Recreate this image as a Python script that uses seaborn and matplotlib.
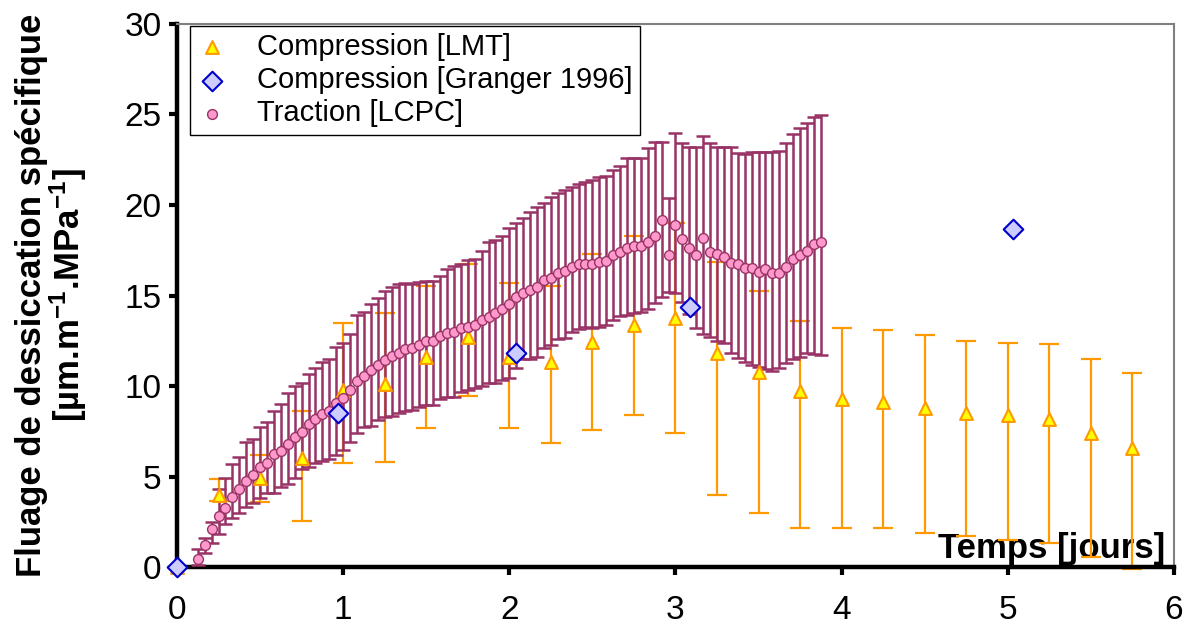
import numpy as np
import matplotlib
matplotlib.use("Agg")
import matplotlib.pyplot as plt
import seaborn as sns

# Compression [LMT] - one point every 6 h
lmt_jours = [0, 0.25, 0.5, 0.75, 1, 1.25, 1.5, 1.75, 2, 2.25, 2.5, 2.75,
             3, 3.25, 3.5, 3.75, 4, 4.25, 4.5, 4.75, 5, 5.25, 5.5, 5.75]
lmt_val = [0, 3.98, 4.9, 6.04, 9.8, 10.1, 11.6, 12.7, 11.6, 11.35, 12.45, 13.37,
           13.74, 11.8, 10.8, 9.74, 9.3, 9.1, 8.8, 8.5, 8.4, 8.2, 7.4, 6.6]
lmt_haut = [0, 4.86, 6.2, 8.62, 13.5, 14.05, 15.5, 16.74, 15.7, 15.5, 17.3, 18.3,
            19.0, 16.87, 15.27, 13.6, 13.2, 13.1, 12.8, 12.5, 12.4, 12.3, 11.5, 10.7]
lmt_bas = [0, 3.66, 3.6, 2.56, 5.76, 5.8, 7.7, 9.45, 7.66, 6.85, 7.57, 8.4,
           7.39, 4.0, 3.0, 2.15, 2.15, 2.15, 1.9, 1.7, 1.5, 1.3, 0.55, -0.1]

# Compression [Granger 1996]
granger_jours = [0, 0.97, 2.04, 3.09, 5.03]
granger_val = [0, 8.5, 11.8, 14.35, 18.7]

# Traction [LCPC] - hourly points
lcpc_heures = [3, 4, 5, 6, 7, 8, 9, 10, 11, 12, 13, 14, 15, 16, 17, 18, 19, 20, 21, 22, 23, 24,
               25, 26, 27, 28, 29, 30, 31, 32, 33, 34, 35, 36, 37, 38, 39, 40, 41, 42, 43, 44, 45, 46, 47, 48,
               49, 50, 51, 52, 53, 54, 55, 56, 57, 58, 59, 60, 61, 62, 63, 64, 65, 66, 67, 68, 69, 70, 71, 72,
               73, 74, 75, 76, 77, 78, 79, 80, 81, 82, 83, 84, 85, 86, 87, 88, 89, 90, 91, 92, 93]
lcpc_val = [0.43, 1.2, 2.08, 2.82, 3.24, 3.88, 4.29, 4.75, 5.08, 5.54, 5.76, 6.24, 6.41, 6.80, 7.2,
            7.48, 7.88, 8.16, 8.45, 8.64, 9.08, 9.35,
            9.78, 10.3, 10.55, 10.9, 11.16, 11.44, 11.66, 11.84, 12.03, 12.12, 12.27, 12.49, 12.49,
            12.76, 12.91, 13.0, 13.19, 13.28, 13.37, 13.65, 13.83, 14.05, 14.24, 14.53,
            14.9, 15.15, 15.3, 15.49, 15.86, 15.98, 16.22, 16.37, 16.59, 16.74, 16.74, 16.74, 16.87,
            16.92, 17.24, 17.42, 17.6, 17.73, 17.73, 17.97, 18.29, 19.17, 17.24, 18.9,
            18.1, 17.6, 17.24, 18.2, 17.42, 17.3, 17.1, 16.8, 16.74, 16.54, 16.54, 16.32, 16.45,
            16.26, 16.26, 16.59, 17.0, 17.24, 17.48, 17.85, 17.97]
lcpc_haut = [1.0, 1.6, 2.5, 4.3, 4.9, 5.7, 6.1, 6.9, 7.1, 7.75, 8.0, 8.6, 9.0, 9.6, 10.0, 10.15,
             10.65, 10.98, 11.3, 11.5, 12.17, 12.4,
             12.87, 13.92, 14.1, 14.53, 14.88, 15.27, 15.49, 15.64, 15.67, 15.64, 15.76, 15.82, 15.82,
             16.08, 16.45, 16.63, 16.74, 16.96, 17.0, 17.48, 17.97, 18.07, 18.29, 18.71,
             19.02, 19.3, 19.63, 19.87, 20.09, 20.46, 20.64, 20.83, 21.01, 21.16, 21.29, 21.38, 21.53,
             21.6, 21.93, 22.15, 22.58, 22.58, 22.58, 23.13, 23.5, 23.5, 20.4, 23.96,
             23.4, 23.2, 23.19, 23.8, 23.4, 23.2, 23.19, 23.2, 22.85, 22.8, 22.95, 22.95, 22.95,
             22.95, 23.0, 23.4, 23.92, 24.24, 24.55, 24.88, 24.97]
lcpc_bas = [0.1, 0.76, 1.3, 1.82, 2.37, 2.7, 2.97, 3.3, 3.52, 3.8, 4.1, 4.1, 4.4, 4.6, 4.9, 5.4,
            5.5, 5.73, 5.85, 5.95, 6.2, 6.46,
            6.92, 7.38, 7.75, 7.79, 8.12, 8.3, 8.34, 8.52, 8.64, 8.67, 8.86, 8.95, 8.95, 9.26, 9.37,
            9.41, 9.69, 9.78, 9.87, 10.0, 10.15, 10.15, 10.33, 10.43,
            11.0, 11.5, 11.5, 11.6, 12.08, 12.27, 12.58, 12.63, 13.0, 13.13, 13.24, 13.2, 13.24,
            13.37, 13.65, 13.87, 13.92, 14.05, 14.1, 14.23, 14.57, 14.9, 15.2, 15.15,
            14.66, 14.0, 13.2, 12.9, 12.7, 12.5, 12.36, 11.8, 11.53, 11.34, 11.16, 11.07, 10.92,
            10.85, 10.98, 11.25, 11.47, 11.62, 11.8, 11.75, 11.7]

sns.set_theme(style="white")
plt.rcParams['font.family'] = ['Liberation Sans', 'DejaVu Sans']
plt.rcParams['text.color'] = 'black'
plt.rcParams['axes.labelcolor'] = 'black'
plt.rcParams['mathtext.fontset'] = 'custom'
plt.rcParams['mathtext.rm'] = 'Liberation Sans:bold'
plt.rcParams['mathtext.it'] = 'Liberation Sans:bold'
plt.rcParams['mathtext.bf'] = 'Liberation Sans:bold'

fig = plt.figure(figsize=(11.91, 6.28), dpi=100)
ax = fig.add_axes([0.1486, 0.0971, 0.8371, 0.8647])

lcpc_jours = np.array(lcpc_heures) / 24.0
lmt_v = np.array(lmt_val)
lcpc_v = np.array(lcpc_val)

# error bars
ax.errorbar(lmt_jours, lmt_v, yerr=[lmt_v - np.array(lmt_bas), np.array(lmt_haut) - lmt_v],
            fmt='none', ecolor='#FF9900', elinewidth=1.6, capsize=7, capthick=1.6,
            zorder=2, clip_on=False)
ax.errorbar(lcpc_jours, lcpc_v, yerr=[lcpc_v - np.array(lcpc_bas), np.array(lcpc_haut) - lcpc_v],
            fmt='none', ecolor='#993366', elinewidth=1.8, capsize=5, capthick=1.8,
            zorder=3, clip_on=False)

# markers
sns.scatterplot(x=lmt_jours, y=lmt_val, marker='^', s=85, color='#FFFF00',
                edgecolor='#FF9900', linewidth=1.5, label='Compression [LMT]',
                ax=ax, zorder=4, clip_on=False)
sns.scatterplot(x=granger_jours, y=granger_val, marker='D', s=100, color='#CCCCFF',
                edgecolor='#0000CC', linewidth=1.5, label='Compression [Granger 1996]',
                ax=ax, zorder=6, clip_on=False)
sns.scatterplot(x=lcpc_jours, y=lcpc_val, marker='o', s=50, color='#FF99CC',
                edgecolor='#993366', linewidth=1.0, label='Traction [LCPC]',
                ax=ax, zorder=5, clip_on=False)

ax.set_xlim(0, 6)
ax.set_ylim(0, 30)
ax.set_xticks([0, 1, 2, 3, 4, 5, 6])
ax.set_yticks([0, 5, 10, 15, 20, 25, 30])

for s in ['left', 'bottom']:
    ax.spines[s].set_color('black')
    ax.spines[s].set_linewidth(3.2)
for s in ['top', 'right']:
    ax.spines[s].set_color('#808080')
    ax.spines[s].set_linewidth(1.5)

ax.tick_params(axis='both', which='major', direction='out', length=6, width=3,
               color='black', labelsize=24, labelcolor='black')
ax.tick_params(axis='x', pad=14, bottom=True)
ax.tick_params(axis='y', pad=5, left=True)

ax.set_ylabel("Fluage de dessiccation spécifique\n[µm.m$^{-1}$.MPa$^{-1}$]",
              fontsize=25, fontweight='bold', linespacing=1.0, color='black')
ax.yaxis.set_label_coords(-0.088, 0.5)
ax.set_xlabel("Temps [jours]", fontsize=25, fontweight='bold', ha='right', va='bottom',
              color='black')
ax.xaxis.set_label_coords(0.991, 0.004)

leg = ax.legend(loc='upper left', bbox_to_anchor=(0.013, 0.997), borderaxespad=0,
                fontsize=21, frameon=True, fancybox=False, shadow=False,
                handlelength=1.0, handletextpad=1.05, labelspacing=0.18,
                borderpad=0.25, markerscale=1.0)
leg.get_frame().set_edgecolor('black')
leg.get_frame().set_linewidth(1.0)
leg.get_frame().set_alpha(1)
leg.set_zorder(10)
for t in leg.get_texts():
    t.set_color('black')

fig.savefig('out.png', dpi=100)
